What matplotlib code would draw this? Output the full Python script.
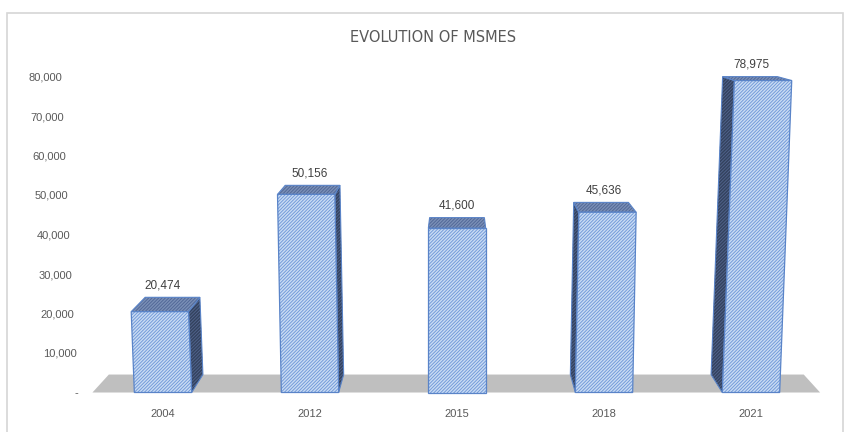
import matplotlib
matplotlib.use("Agg")
import matplotlib.pyplot as plt
from matplotlib.patches import Polygon, Rectangle
from matplotlib.transforms import Affine2D, ScaledTranslation

# ---- data -------------------------------------------------------------
years = ["2004", "2012", "2015", "2018", "2021"]
msmes = [20474, 50156, 41600, 45636, 78975]
value_labels = ["20,474", "50,156", "41,600", "45,636", "78,975"]
y_ticks = [0, 10000, 20000, 30000, 40000, 50000, 60000, 70000, 80000]
y_tick_labels = ["-", "10,000", "20,000", "30,000", "40,000",
                 "50,000", "60,000", "70,000", "80,000"]
title = "EVOLUTION OF MSMES"

# ---- style ------------------------------------------------------------
plt.rcParams['font.family'] = ['Liberation Sans', 'DejaVu Sans']
plt.rcParams['hatch.linewidth'] = 0.65

FRONT_FC, FRONT_HC = "#c9dbf3", "#6f98d8"
SIDE_FC, SIDE_HC = "#33425e", "#51648c"
TOP_FC, TOP_HC = "#7a8fb6", "#506696"
EDGE = "#5a84c8"
FLOOR = "#bfbfbf"
TICK_COLOR = "#595959"
LABEL_COLOR = "#404040"
HATCH = "//////////"

W, H, DPI = 850, 432, 100
fig = plt.figure(figsize=(W / DPI, H / DPI), dpi=DPI)
fig.patch.set_facecolor("white")

# plot area in pixels and the scale anchors
left, right, top, bottom = 85, 835, 60, 400
x0_px, dx_px = 163.0, 147.0          # category 0 centre, spacing
y0_px, dy_px = 392.5, 39.5 / 10000   # zero line, pixels per unit

ax = fig.add_axes([left / W, 1 - bottom / H, (right - left) / W, (bottom - top) / H])
ax.set_xlim((left - x0_px) / dx_px, (right - x0_px) / dx_px)
ax.set_ylim((y0_px - bottom) / dy_px, (y0_px - top) / dy_px)
for sp in ax.spines.values():
    sp.set_visible(False)
ax.set_facecolor("none")

# perspective: depth points shrink toward a vanishing point
VX, VY, S = 2.0, 101000.0, 0.955
KEY = 5.2e-7      # slight lean of tall columns away from the centre
BAR_W = 0.39


def back(x, y):
    return (VX + S * (x - VX), VY + S * (y - VY))


def face(points, fc, hc, transform, z):
    ax.add_patch(Polygon(points, closed=True, facecolor=fc, edgecolor=hc,
                         hatch=HATCH, linewidth=0, transform=transform, zorder=z))
    ax.add_patch(Polygon(points, closed=True, facecolor="none", edgecolor=EDGE,
                         linewidth=0.8, transform=transform, zorder=z + 0.5))


# floor slab
fl, fr = -0.48, 4.47
ax.add_patch(Polygon([(fl, 0), (fr, 0), back(fr, 0), back(fl, 0)],
                     closed=True, facecolor=FLOOR, edgecolor="none", zorder=1))

xs = list(range(len(years)))
bars = ax.bar(xs, msmes, width=BAR_W, facecolor=FRONT_FC, edgecolor=FRONT_HC,
              hatch=HATCH, linewidth=0, zorder=5)

for i, (rect, v, lab) in enumerate(zip(bars, msmes, value_labels)):
    shear = Affine2D.from_values(1, 0, (i - VX) * KEY, 1, 0, 0) + ax.transData
    rect.set_transform(shear)
    xl, xr = rect.get_x(), rect.get_x() + rect.get_width()

    # side face
    if i < VX:
        pts = [(xr, 0), (xr, v), back(xr, v), back(xr, 0)]
        face(pts, SIDE_FC, SIDE_HC, shear, 2)
    elif i > VX:
        pts = [(xl, 0), (xl, v), back(xl, v), back(xl, 0)]
        face(pts, SIDE_FC, SIDE_HC, shear, 2)

    # top face
    face([(xl, v), (xr, v), back(xr, v), back(xl, v)], TOP_FC, TOP_HC, shear, 3)

    # front outline
    ax.add_patch(Rectangle((xl, 0), xr - xl, v, facecolor="none", edgecolor=EDGE,
                           linewidth=0.9, transform=shear, zorder=6))

    # value label above the top face
    _, by = back(i, v)
    ax.annotate(lab, xy=(i, by), xytext=(0, 8.5),
                textcoords="offset points", ha="center", va="center",
                fontsize=8.5, color=LABEL_COLOR, zorder=7)

# axes ticks
ax.set_xticks(xs, years)
ax.set_yticks(y_ticks, y_tick_labels)
ax.tick_params(axis="x", length=0, pad=6.5, labelsize=8, labelcolor=TICK_COLOR)
ax.tick_params(axis="y", length=0, pad=4.7, labelsize=8, labelcolor=TICK_COLOR)
for tick, val in zip(ax.yaxis.get_major_ticks(), y_ticks):
    shift = -2.0 * val / 10000 / DPI
    tick.label1.set_transform(tick.label1.get_transform() +
                              ScaledTranslation(shift, 0, fig.dpi_scale_trans))

# title
fig.text(433 / W, 1 - 38 / H, title, ha="center", va="center",
         fontsize=10.5, color=TICK_COLOR, family=["DejaVu Sans"])

# chart frame
fig.add_artist(Rectangle((7 / W, -0.05), (843 - 7) / W, 1.05 - 13 / H,
                         transform=fig.transFigure, fill=False,
                         edgecolor="#d6d6d6", linewidth=1.2))

fig.savefig("out.png", dpi=DPI)
